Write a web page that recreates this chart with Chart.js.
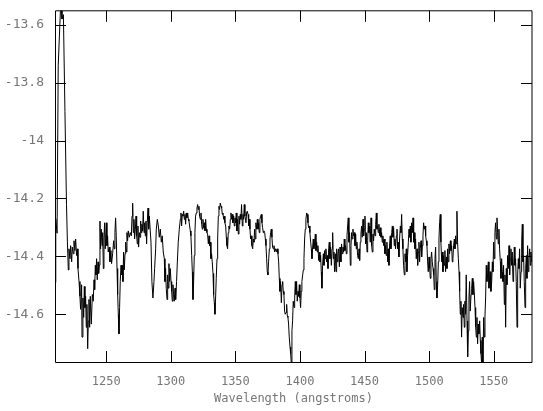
<!DOCTYPE html>
<html>
<head>
<meta charset="utf-8">
<script src="https://cdn.jsdelivr.net/npm/chart.js@4/dist/chart.umd.min.js"></script>
<style>
  html, body { margin: 0; padding: 0; background: #fff; }
  canvas { display: block; }
</style>
</head>
<body>
<canvas id="spectrum" width="543" height="411"></canvas>
<script>
/* ── data ─────────────────────────────────────────────────────── */

const xRange = [1210.4, 1579.6];
const yRange = [-14.765, -13.5515];
const xTicks = [1250, 1300, 1350, 1400, 1450, 1500, 1550];
const yTicks = [-14.6, -14.4, -14.2, -14, -13.8, -13.6];
const xTitle = 'Wavelength (angstroms)';

const wavelength = [
  1210.7, 1211.0, 1212.0, 1212.9, 1214.6, 1215.3, 1215.8, 1216.9, 1218.1, 1219.3, 1220.0,
  1220.7, 1221.2, 1222.0, 1222.5, 1223.3, 1223.8, 1224.6, 1225.1, 1225.8, 1226.4, 1227.1, 1227.7, 1228.2, 1229.0,
  1229.7, 1230.2, 1231.0, 1231.3, 1232.0, 1232.6, 1233.1, 1233.6, 1234.1, 1234.6, 1235.1, 1235.7, 1236.2, 1236.7,
  1237.2, 1237.7, 1238.5, 1239.3, 1240.0, 1240.6, 1241.1, 1241.6, 1242.1, 1242.6, 1243.1, 1243.7, 1244.2, 1244.7,
  1245.2, 1245.7, 1246.2, 1246.8, 1247.3, 1247.8, 1248.3, 1248.8, 1249.3, 1250.1, 1250.6, 1251.1, 1251.6, 1252.4,
  1252.9, 1253.7, 1254.2, 1255.0, 1255.8, 1256.3, 1256.8, 1257.3, 1257.8, 1258.4, 1258.9, 1259.4, 1259.9, 1260.4,
  1260.9, 1261.5, 1262.0, 1262.5, 1263.0, 1263.5, 1264.0, 1264.6, 1265.1, 1265.6, 1266.1, 1266.6, 1267.1, 1267.9,
  1268.7, 1269.5, 1270.0, 1270.5, 1271.0, 1271.5, 1272.0, 1272.6, 1273.1, 1273.6, 1274.1, 1274.6, 1275.1, 1275.7,
  1276.2, 1276.7, 1277.2, 1277.7, 1278.2, 1278.7, 1279.3, 1279.8, 1280.3, 1280.8, 1281.3, 1281.8, 1282.4, 1282.9, 1283.4,
  1284.7, 1285.4, 1286.2, 1287.0, 1287.5, 1288.3, 1288.8, 1289.6, 1290.4, 1291.1, 1291.9, 1292.7, 1293.4, 1294.2,
  1295.0, 1295.5, 1296.0, 1296.5, 1297.1, 1297.6, 1298.1, 1298.6, 1299.1, 1299.6, 1300.2, 1300.7, 1301.2, 1301.7,
  1302.2, 1302.7, 1303.3, 1303.8, 1304.5, 1305.1, 1305.8, 1306.6, 1307.4, 1307.9, 1308.4, 1308.9, 1309.4, 1310.0,
  1310.5, 1311.0, 1311.5, 1312.0, 1312.5, 1313.1, 1313.6, 1314.1, 1314.6, 1315.1, 1315.6, 1316.2, 1316.7, 1317.2,
  1317.7, 1318.2, 1318.7, 1319.2, 1319.8, 1320.3, 1320.8, 1321.3, 1321.8, 1322.3, 1322.9, 1323.4, 1323.9, 1324.4,
  1324.9, 1325.4, 1326.0, 1326.5, 1327.0, 1327.5, 1328.0, 1328.5, 1329.1, 1329.6, 1330.1, 1330.6, 1331.1, 1331.6,
  1332.1, 1332.7, 1333.2, 1333.7, 1334.2, 1334.7, 1335.2, 1335.8, 1336.3, 1336.8, 1337.3, 1337.8, 1338.3, 1338.9,
  1339.4, 1339.9, 1340.4, 1340.9, 1341.4, 1341.9, 1342.5, 1343.0, 1343.5, 1344.0, 1344.5, 1345.0, 1345.6, 1346.1,
  1346.6, 1347.1, 1347.6, 1348.1, 1348.7, 1349.2, 1349.7, 1350.2, 1350.7, 1351.2, 1351.8, 1352.3, 1352.8, 1353.3,
  1353.8, 1354.3, 1354.8, 1355.4, 1355.9, 1356.4, 1356.9, 1357.4,
  1358.2, 1358.7, 1359.2, 1359.8, 1360.3, 1360.8, 1361.3, 1361.8, 1362.3, 1362.8, 1363.4, 1363.9, 1364.4, 1364.9,
  1365.4, 1365.9, 1366.5, 1367.0, 1367.5, 1368.0, 1368.5, 1369.0, 1369.6, 1370.1, 1370.6, 1371.1, 1371.6, 1372.1,
  1372.7, 1373.2, 1373.7, 1374.2, 1374.7, 1375.2, 1375.7, 1376.3, 1376.8, 1377.3, 1377.8, 1378.3, 1378.8, 1379.4,
  1379.9, 1380.4, 1380.9, 1381.4, 1381.9, 1382.5, 1383.0, 1383.5, 1384.0, 1384.5, 1385.0, 1385.6, 1386.1, 1386.6,
  1387.1, 1387.6, 1388.1, 1388.6, 1389.2, 1389.7, 1390.2, 1390.7, 1391.2, 1391.7, 1392.3, 1392.8, 1393.3, 1393.8,
  1394.3, 1394.8, 1395.4, 1395.9, 1396.4, 1396.9, 1397.4, 1397.9, 1398.5, 1399.0, 1399.5, 1400.0, 1400.5, 1401.0,
  1401.5, 1402.1, 1402.6, 1403.1, 1403.6, 1404.1, 1404.6, 1405.2, 1405.7, 1406.2, 1406.7, 1407.2, 1407.7, 1408.3,
  1408.8, 1409.3, 1409.8, 1410.3, 1410.8, 1411.4, 1411.9, 1412.4, 1412.9, 1413.4, 1413.9, 1414.5, 1415.0, 1415.5,
  1416.0, 1416.5, 1417.0, 1417.5, 1418.1, 1418.6, 1419.1, 1419.6, 1420.1, 1420.6, 1421.2, 1421.7, 1422.2, 1422.7,
  1423.2, 1423.7, 1424.3, 1424.8, 1425.3, 1425.8, 1426.3, 1426.8, 1427.4, 1427.9, 1428.4, 1428.9, 1429.4, 1429.9,
  1430.5, 1431.0,
  1431.7, 1432.2, 1432.8, 1433.3, 1433.8, 1434.3, 1434.8, 1435.3, 1435.9, 1436.4, 1436.9, 1437.4, 1437.9, 1438.4,
  1439.0, 1439.5, 1440.0, 1440.5, 1441.0, 1441.5, 1442.1, 1442.6, 1443.1, 1443.6, 1444.1, 1444.6, 1445.2, 1445.7,
  1446.2, 1446.7, 1447.2, 1447.7, 1448.2, 1448.8, 1449.3, 1449.8, 1450.3, 1450.8, 1451.3, 1451.9, 1452.4, 1452.9,
  1453.4, 1453.9, 1454.4, 1455.0, 1455.5, 1456.0, 1456.5, 1457.0, 1457.5, 1458.1, 1458.6, 1459.1, 1459.6, 1460.1,
  1460.6, 1461.1, 1461.7, 1462.2, 1462.7, 1463.2, 1463.7, 1464.2, 1464.8, 1465.3, 1465.8, 1466.3, 1466.8, 1467.3,
  1467.9, 1468.4, 1468.9, 1469.4, 1469.9, 1470.4, 1471.0, 1471.5, 1472.0, 1472.5, 1473.0, 1473.5, 1474.0, 1474.6,
  1475.1, 1475.6, 1476.1, 1476.6, 1477.1, 1477.7, 1478.2, 1478.7, 1479.2, 1479.7, 1480.2, 1480.8, 1481.3, 1481.8,
  1482.3, 1482.8, 1483.3, 1483.9, 1484.4, 1484.9, 1485.4, 1485.9, 1486.4, 1487.0, 1487.5, 1488.0, 1488.5, 1489.0,
  1489.5, 1490.0, 1490.6, 1491.1, 1491.6, 1492.1, 1492.6, 1493.1, 1493.7, 1494.2, 1494.7, 1495.2, 1495.7, 1496.2,
  1496.8, 1497.3, 1497.8, 1498.3, 1498.8, 1499.3, 1499.9, 1500.4, 1500.9, 1501.4, 1501.9, 1502.4, 1503.0, 1503.5,
  1504.0, 1504.5, 1505.0,
  1505.5, 1506.0, 1506.6, 1507.1, 1507.6, 1508.1, 1508.6, 1509.1, 1509.7, 1510.2, 1510.7, 1511.2, 1511.7, 1512.2,
  1512.7, 1513.3, 1513.8, 1514.3, 1514.8, 1515.3, 1515.8, 1516.4, 1516.9, 1517.4, 1517.9, 1518.4, 1518.9, 1519.5,
  1520.0, 1520.5, 1521.0, 1521.5, 1522.0, 1522.6, 1523.1, 1523.6, 1524.1, 1524.6, 1525.1, 1525.6, 1526.2, 1526.7,
  1527.2, 1527.7, 1528.2, 1528.7, 1529.3, 1529.8, 1530.3, 1530.8, 1531.3, 1531.8, 1532.4, 1532.9, 1533.4, 1533.9,
  1534.4, 1534.9, 1535.5, 1536.0, 1536.5, 1537.0, 1537.5, 1538.0, 1538.5, 1539.1, 1539.6, 1540.1, 1540.6, 1541.1,
  1541.6, 1542.2, 1542.7, 1543.2, 1543.7, 1544.2, 1544.7, 1545.3, 1545.8, 1546.3, 1546.8, 1547.3, 1547.8, 1548.4,
  1548.9, 1549.4, 1549.9, 1550.4, 1550.9, 1551.4, 1552.0, 1552.5, 1553.0, 1553.5, 1554.0, 1554.5, 1555.1, 1555.6,
  1556.1, 1556.6, 1557.1, 1557.6, 1558.2, 1558.7, 1559.2, 1559.7, 1560.2, 1560.7, 1561.3, 1561.8, 1562.3, 1562.8,
  1563.3, 1563.8, 1564.3, 1564.9, 1565.4, 1565.9, 1566.4, 1566.9, 1567.4, 1568.0, 1568.5, 1569.0, 1569.5, 1570.0,
  1570.5, 1571.1, 1571.6, 1572.1, 1572.6, 1573.1, 1573.6, 1574.2, 1574.7, 1575.2, 1575.7, 1576.2, 1576.7, 1577.2,
  1577.8, 1578.3, 1578.8, 1579.3
];

const flux = [
  -14.49, -14.27, -14.32, -13.74, -13.55, -13.53, -13.58, -13.565, -13.90, -14.22, -14.35,
  -14.447, -14.374, -14.408, -14.363, -14.419, -14.368, -14.391, -14.346, -14.380, -14.340, -14.397, -14.374, -14.442, -14.487,
  -14.538, -14.583, -14.498, -14.679, -14.544, -14.611, -14.504, -14.577, -14.538, -14.645, -14.566, -14.719, -14.623, -14.549,
  -14.645, -14.538, -14.634, -14.532, -14.555, -14.481, -14.515, -14.431, -14.464, -14.408, -14.481, -14.419, -14.459, -14.431,
  -14.278, -14.374, -14.306, -14.363, -14.318, -14.442, -14.340, -14.284, -14.374, -14.284, -14.363, -14.329, -14.385, -14.368,
  -14.419, -14.380, -14.425, -14.391, -14.346, -14.374, -14.318, -14.267, -14.329, -14.442, -14.532, -14.600, -14.668, -14.577,
  -14.487, -14.431, -14.464, -14.431, -14.487, -14.385, -14.447, -14.391, -14.351, -14.385, -14.318, -14.346, -14.312, -14.334,
  -14.318, -14.329, -14.261, -14.216, -14.318, -14.272, -14.340, -14.306, -14.261, -14.329, -14.357, -14.295, -14.368, -14.318,
  -14.334, -14.278, -14.318, -14.289, -14.312, -14.244, -14.318, -14.284, -14.329, -14.278, -14.357, -14.284, -14.233, -14.306, -14.261,
  -14.351, -14.487, -14.544, -14.487, -14.442, -14.374, -14.306, -14.272, -14.295, -14.334, -14.306, -14.351, -14.329, -14.385,
  -14.408, -14.487, -14.442, -14.510, -14.549, -14.464, -14.510, -14.425, -14.487, -14.442, -14.487, -14.521, -14.555, -14.498,
  -14.532, -14.555, -14.510, -14.549, -14.487, -14.419, -14.351, -14.306, -14.272, -14.250, -14.295, -14.255, -14.261, -14.244,
  -14.272, -14.255, -14.289, -14.250, -14.267, -14.250, -14.272, -14.278, -14.295, -14.312, -14.329, -14.397, -14.453, -14.549,
  -14.487, -14.397, -14.318, -14.261, -14.250, -14.233, -14.221, -14.238, -14.227, -14.261, -14.272, -14.250, -14.289, -14.306,
  -14.272, -14.301, -14.284, -14.312, -14.272, -14.306, -14.318, -14.323, -14.357, -14.329, -14.363, -14.351, -14.408, -14.391,
  -14.419, -14.459, -14.532, -14.560, -14.600, -14.544, -14.476, -14.408, -14.340, -14.261, -14.227, -14.238, -14.216, -14.227,
  -14.233, -14.255, -14.250, -14.272, -14.261, -14.284, -14.295, -14.334, -14.363, -14.374, -14.318, -14.295, -14.306, -14.272,
  -14.250, -14.272, -14.255, -14.284, -14.261, -14.295, -14.267, -14.284, -14.250, -14.312, -14.272, -14.323, -14.261, -14.289,
  -14.255, -14.272, -14.221, -14.295, -14.255, -14.272, -14.221, -14.261,
  -14.284, -14.250, -14.244, -14.255, -14.295, -14.272, -14.306, -14.340, -14.329, -14.363, -14.374, -14.340, -14.351, -14.306,
  -14.340, -14.284, -14.306, -14.272, -14.306, -14.284, -14.318, -14.272, -14.261, -14.255, -14.284, -14.301, -14.318, -14.312,
  -14.318, -14.340, -14.363, -14.408, -14.453, -14.464, -14.419, -14.374, -14.340, -14.318, -14.306, -14.334, -14.368, -14.374,
  -14.363, -14.385, -14.374, -14.380, -14.385, -14.374, -14.391, -14.419, -14.476, -14.521, -14.487, -14.560, -14.498, -14.487,
  -14.521, -14.532, -14.589, -14.600, -14.594, -14.566, -14.606, -14.611, -14.634, -14.679, -14.713, -14.736, -14.770, -14.657,
  -14.623, -14.555, -14.577, -14.544, -14.487, -14.532, -14.487, -14.555, -14.521, -14.538, -14.498, -14.544, -14.577, -14.521,
  -14.487, -14.464, -14.447, -14.408, -14.340, -14.306, -14.272, -14.250, -14.255, -14.284, -14.301, -14.295, -14.318, -14.351,
  -14.374, -14.408, -14.368, -14.340, -14.374, -14.351, -14.323, -14.380, -14.351, -14.385, -14.363, -14.414, -14.385, -14.419,
  -14.397, -14.453, -14.510, -14.431, -14.391, -14.431, -14.380, -14.408, -14.374, -14.419, -14.397, -14.442, -14.374, -14.351,
  -14.408, -14.368, -14.431, -14.374, -14.318, -14.408, -14.385, -14.453, -14.391, -14.453, -14.374, -14.419, -14.391, -14.374,
  -14.436, -14.368,
  -14.419, -14.357, -14.391, -14.368, -14.385, -14.340, -14.380, -14.363, -14.391, -14.329, -14.295, -14.267, -14.351, -14.318,
  -14.431, -14.363, -14.318, -14.340, -14.306, -14.329, -14.318, -14.363, -14.323, -14.374, -14.351, -14.397, -14.408, -14.374,
  -14.414, -14.351, -14.323, -14.295, -14.334, -14.272, -14.329, -14.306, -14.261, -14.357, -14.318, -14.385, -14.346, -14.284,
  -14.318, -14.295, -14.351, -14.267, -14.363, -14.385, -14.323, -14.346, -14.306, -14.329, -14.289, -14.250, -14.306, -14.295,
  -14.318, -14.289, -14.329, -14.301, -14.334, -14.318, -14.351, -14.329, -14.363, -14.340, -14.391, -14.363, -14.397, -14.351,
  -14.419, -14.374, -14.431, -14.357, -14.329, -14.374, -14.318, -14.295, -14.334, -14.301, -14.363, -14.340, -14.374, -14.329,
  -14.306, -14.374, -14.351, -14.402, -14.340, -14.295, -14.318, -14.255, -14.340, -14.374, -14.431, -14.464, -14.391, -14.419,
  -14.374, -14.453, -14.397, -14.351, -14.306, -14.334, -14.295, -14.351, -14.284, -14.318, -14.267, -14.351, -14.318, -14.374,
  -14.340, -14.408, -14.374, -14.431, -14.385, -14.351, -14.419, -14.374, -14.346, -14.402, -14.363, -14.329, -14.284, -14.306,
  -14.295, -14.329, -14.346, -14.363, -14.419, -14.453, -14.402, -14.442, -14.476, -14.408, -14.385, -14.419, -14.442, -14.464,
  -14.515, -14.408, -14.368,
  -14.487, -14.544, -14.498, -14.419, -14.340, -14.284, -14.255, -14.351, -14.419, -14.385, -14.453, -14.397, -14.431, -14.380,
  -14.453, -14.402, -14.442, -14.374, -14.419, -14.357, -14.391, -14.346, -14.380, -14.363, -14.419, -14.408, -14.363, -14.340,
  -14.374, -14.329, -14.357, -14.244, -14.351, -14.408, -14.453, -14.521, -14.600, -14.555, -14.679, -14.577, -14.611, -14.566,
  -14.645, -14.555, -14.600, -14.464, -14.623, -14.747, -14.657, -14.544, -14.487, -14.589, -14.532, -14.510, -14.476, -14.532,
  -14.487, -14.521, -14.577, -14.645, -14.679, -14.611, -14.702, -14.634, -14.668, -14.623, -14.690, -14.736, -14.770, -14.679,
  -14.770, -14.611, -14.679, -14.606, -14.544, -14.431, -14.487, -14.464, -14.419, -14.510, -14.476, -14.453, -14.521, -14.487,
  -14.419, -14.453, -14.351, -14.408, -14.318, -14.284, -14.340, -14.267, -14.318, -14.357, -14.306, -14.374, -14.419, -14.476,
  -14.408, -14.453, -14.487, -14.431, -14.566, -14.464, -14.645, -14.442, -14.498, -14.397, -14.442, -14.363, -14.464, -14.408,
  -14.374, -14.431, -14.385, -14.487, -14.431, -14.368, -14.431, -14.408, -14.487, -14.645, -14.464, -14.408, -14.442, -14.374,
  -14.510, -14.453, -14.351, -14.289, -14.419, -14.397, -14.487, -14.577, -14.442, -14.397, -14.476, -14.363, -14.453, -14.408,
  -14.374, -14.431, -14.385, -14.419
];

/* ── styling ──────────────────────────────────────────────────── */

const labelColor = '#777777';
const labelFont = { family: 'DejaVu Sans Mono', size: 12 };
const yLabelFont = { family: 'DejaVu Sans Mono', size: 13 };

// inward tick marks on all four sides plus the plot frame
const frameTicks = {
  id: 'frameTicks',
  afterDraw(chart) {
    const { ctx, chartArea: a, scales: { x, y } } = chart;
    ctx.save();
    ctx.strokeStyle = '#000';
    ctx.lineWidth = 1;
    ctx.beginPath();
    xTicks.forEach(v => {
      const px = Math.round(x.getPixelForValue(v)) + 0.5;
      ctx.moveTo(px, a.bottom); ctx.lineTo(px, a.bottom - 11);
      ctx.moveTo(px, a.top); ctx.lineTo(px, a.top + 11);
    });
    yTicks.forEach(v => {
      const py = Math.round(y.getPixelForValue(v)) + 0.5;
      ctx.moveTo(a.left, py); ctx.lineTo(a.left + 11, py);
      ctx.moveTo(a.right, py); ctx.lineTo(a.right - 11, py);
    });
    ctx.stroke();

    ctx.beginPath();
    ctx.moveTo(a.right, a.top);
    ctx.lineTo(a.left + 0.5, a.top);
    ctx.lineTo(a.left + 0.5, a.bottom + 0.5);
    ctx.lineTo(a.right, a.bottom + 0.5);
    ctx.lineTo(a.right, a.top);
    ctx.stroke();
    ctx.restore();
  }
};

new Chart(document.getElementById('spectrum'), {
  type: 'line',
  data: {
    datasets: [{
      data: wavelength.map((w, i) => ({ x: w, y: flux[i] })),
      borderColor: '#000',
      borderWidth: 1,
      pointRadius: 0,
      tension: 0,
      fill: false
    }]
  },
  options: {
    responsive: false,
    animation: false,
    layout: { padding: { left: 0, top: 4, right: 11, bottom: 0 } },
    plugins: { legend: { display: false }, tooltip: { enabled: false } },
    scales: {
      x: {
        type: 'linear',
        min: xRange[0],
        max: xRange[1],
        afterBuildTicks: s => { s.ticks = xTicks.map(v => ({ value: v })); },
        afterFit: s => { s.height = 49; },
        grid: { display: false },
        border: { display: false },
        ticks: { color: labelColor, font: labelFont, padding: 5, maxRotation: 0, autoSkip: false, callback: v => String(v) },
        title: { display: true, text: xTitle, color: labelColor, font: labelFont, padding: { top: 0, bottom: 5 } }
      },
      y: {
        min: yRange[0],
        max: yRange[1],
        afterBuildTicks: s => { s.ticks = yTicks.map(v => ({ value: v })); },
        afterFit: s => { s.width = 55; },
        grid: { display: false },
        border: { display: false },
        ticks: { color: labelColor, font: yLabelFont, padding: 3, callback: v => String(v) }
      }
    }
  },
  plugins: [frameTicks]
});
</script>
</body>
</html>
